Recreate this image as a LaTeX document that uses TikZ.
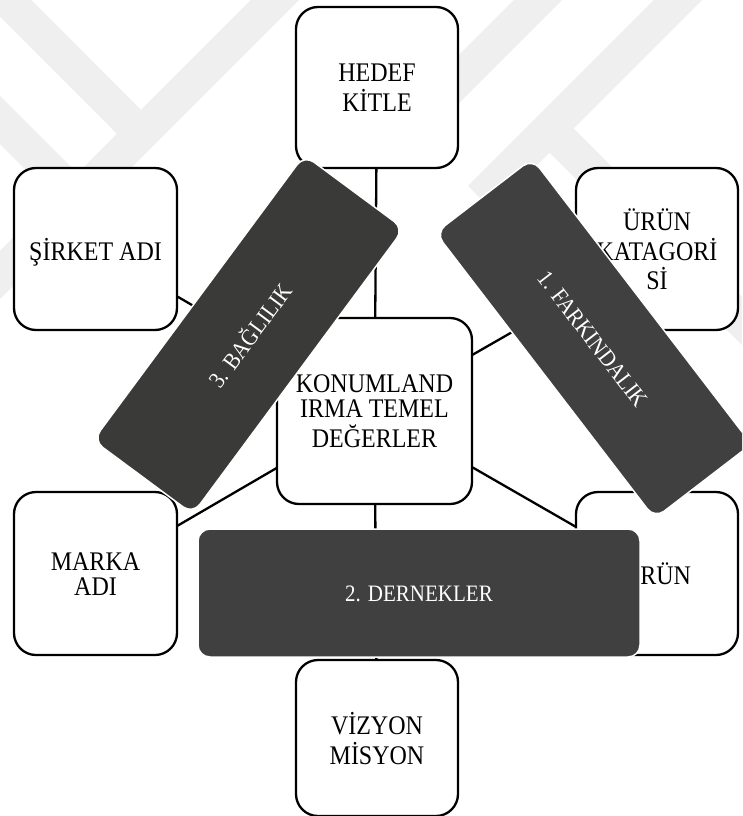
\documentclass[tikz,border=0pt]{standalone}
\usepackage{fontspec}
\usepackage{graphicx}
\setmainfont{Liberation Serif}
\definecolor{wmgray}{RGB}{239,239,239}
\definecolor{darkA}{RGB}{58,58,57}
\definecolor{darkB}{RGB}{64,64,64}
\newcommand{\tl}[1]{\scalebox{1}[1.12]{\begin{tabular}{@{}c@{}}#1\\[-7pt]\end{tabular}}}
\pgfdeclarelayer{wmlayer}
\pgfdeclarelayer{linelayer}
\pgfsetlayers{wmlayer,linelayer,main}
\tikzset{
  wbox/.style={draw=black, line width=2.3pt, fill=white, rounded corners=22pt,
    inner sep=0pt, align=center,
    font=\fontsize{24}{22}\selectfont},
  dbox/.style={draw=white, line width=1.5pt, rounded corners=12pt, inner sep=0pt,
    text=white, align=center, font=\fontsize{21}{20}\selectfont},
  conn/.style={draw=black, line width=2.3pt},
  wm/.style={draw=wmgray, line width=34pt, line cap=butt}
}
\begin{document}
\begin{tikzpicture}[x=1pt,y=-1pt]
\useasboundingbox (0,0) rectangle (742,816);
\begin{scope}
\clip (0,0) rectangle (742,816);

% white boxes
\node[wbox, minimum width=162pt, minimum height=161pt] (hedef) at (377,87.5) {\tl{HEDEF\\KİTLE}};
\node[wbox, minimum width=163pt, minimum height=162pt] (sirket) at (95.5,249) {\tl{ŞİRKET ADI}};
\node[wbox, minimum width=162pt, minimum height=162pt] (urunk) at (657,249) {\tl{ÜRÜN\\KATAGORİ\\Sİ}};
\node[wbox, minimum width=195pt, minimum height=186pt] (konum) at (374.5,411) {\tl{KONUMLAND\\IRMA TEMEL\\DEĞERLER}};
\node[wbox, minimum width=163pt, minimum height=163pt] (marka) at (95.5,573.5) {\tl{MARKA\\ADI}};
\node[wbox, minimum width=162pt, minimum height=163pt] (urun) at (657,573.5) {\tl{ÜRÜN}};
\node[wbox, minimum width=162pt, minimum height=156pt] (vizyon) at (377,738) {\tl{VİZYON\\MİSYON}};

% dark rotated boxes
\node[dbox, fill=darkA, minimum width=355pt, minimum height=124pt, rotate=53.5] (bag) at (248.5,334.5) {\tl{3. BAĞLILIK}};
\node[dbox, fill=darkB, minimum width=360pt, minimum height=122pt, rotate=-52.5] (fark) at (593.5,338.5) {\tl{1. FARKINDALIK}};
\node[dbox, fill=darkB, minimum width=442pt, minimum height=128pt] (dern) at (419,593) {\tl{2. DERNEKLER}};
\end{scope}

\begin{pgfonlayer}{linelayer}
\draw[conn] (konum.center) -- (hedef.center);
\draw[conn] (konum.center) -- (vizyon.center);
\draw[conn] (konum.center) -- (sirket.center);
\draw[conn] (konum.center) -- (marka.center);
\draw[conn] (konum.center) -- (urunk.center);
\draw[conn] (konum.center) -- (urun.center);
\end{pgfonlayer}

\begin{pgfonlayer}{wmlayer}
\begin{scope}
\clip (0,0) rectangle (742,816);
\fill[white] (0,0) rectangle (742,816);
\draw[wm] (-30,-37.5) -- (141,134);
\draw[wm] (305,-30) -- (-30,305);
\draw[wm] (-30,90) -- (77,197);
\draw[wm] (568,-30) -- (400,138);
\draw[wm] (708,-30) -- (480,198);
\draw[wm] (549,128) -- (780,359);
\end{scope}
\end{pgfonlayer}
\end{tikzpicture}
\end{document}
